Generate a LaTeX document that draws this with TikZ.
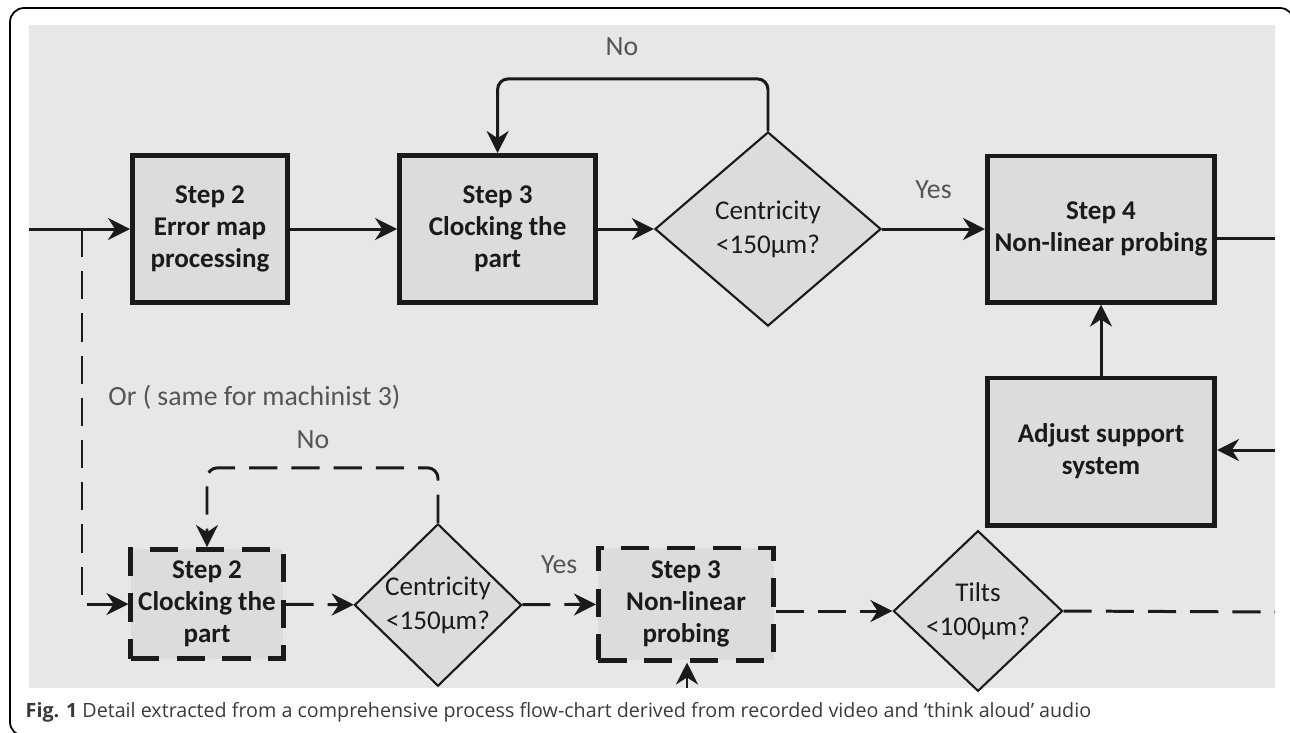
\documentclass[tikz,border=0pt]{standalone}
\usepackage{fontspec}
\setmainfont{Carlito}
\newfontfamily\capfont{Open Sans}
\usepackage{tikz}
\usetikzlibrary{arrows.meta,positioning,shapes.geometric}
\definecolor{panel}{HTML}{E7E7E7}
\definecolor{boxfill}{HTML}{DCDCDC}
\definecolor{ink}{HTML}{1A1A1A}
\definecolor{note}{HTML}{555555}
\definecolor{capgray}{HTML}{3A3A3A}

\begin{document}
\begin{tikzpicture}[x=0.01cm,y=-0.01cm,
  stepbox/.style={rectangle,draw=ink,line width=1.4pt,fill=boxfill,font=\fontsize{7.7}{9.1}\selectfont\bfseries,text=ink,align=center,inner sep=0pt},
  altbox/.style={stepbox,dash pattern=on 8pt off 5pt},
  test/.style={diamond,draw=ink,line width=0.6pt,fill=boxfill,inner sep=0pt,font=\fontsize{7.7}{9.6}\selectfont,text=ink,align=center},
  lbl/.style={font=\fontsize{7.9}{9.5}\selectfont,text=note},
  wire/.style={ink,line width=0.85pt},
  arr/.style={-{Stealth[length=2.2mm,width=2.2mm]},wire},
  darr/.style={arr,dash pattern=on 8pt off 4pt},
  dline/.style={wire,dash pattern=on 8pt off 4pt}]
\useasboundingbox (0,0) rectangle (1290,732);
\draw[rounded corners=4pt,line width=0.5pt] (1294,40) -- (1294,8) -- (10,8) -- (10,736) -- (60,736);
\fill[panel] (29,25) rectangle (1275,688);
% main route
\node[stepbox,minimum width=1.55cm,minimum height=1.47cm] (s2) at (210,229) {Step 2\\Error map\\processing};
\node[stepbox,minimum width=1.96cm,minimum height=1.47cm,right=1.07cm of s2] (s3) {Step 3\\Clocking the\\part};
\node[test,minimum width=2.26cm,minimum height=1.94cm] (c1) at (768,229) {Centricity\\<150µm?};
\node[stepbox,minimum width=2.27cm,minimum height=1.46cm] (s4) at (1101,229) {Step 4\\Non-linear probing};
\node[stepbox,minimum width=2.27cm,minimum height=1.47cm,below=0.71cm of s4] (adj) {Adjust support\\system};
\coordinate (inL) at (29,229);
\coordinate (br) at (82,229);
\coordinate (outS4) at (1275,238);
\coordinate (inAdj) at (1275,450);
\draw[arr] (inL) -- (s2);
\draw[arr] (s2) -- (s3);
\draw[arr] (s3) -- (c1);
\draw[arr,rounded corners=3pt] (c1.north) -- ++(0,-52) -| (s3.north);
\node[lbl] (no1) at (622,47) {No};
\draw[arr] (c1) -- (s4) node[midway,above=5pt,lbl] {Yes};
\draw[wire] (s4.east |- outS4) -- (outS4);
\draw[arr] (adj) -- (s4);
\draw[arr] (inAdj) -- (adj.east |- inAdj);
% alternative route
\node[lbl,anchor=west] (orlbl) at (96,397) {Or ( same for machinist 3)};
\node[altbox,minimum width=1.52cm,minimum height=1.09cm] (b2) at (207,604) {Step 2\\Clocking the\\part};
\node[test,minimum width=1.67cm,minimum height=1.46cm] (c2) at (438,605) {Centricity\\<150µm?};
\node[altbox,minimum width=1.75cm,minimum height=1.12cm] (b3) at (686,604) {Step 3\\Non-linear\\probing};
\node[test,minimum width=1.69cm,minimum height=1.48cm] (tilt) at (978,611) {Tilts\\<100µm?};
\coordinate (inB3) at (687,688);
\coordinate (outT) at (1275,612);
\draw[darr] (br) |- (b2);
\draw[darr] (b2) -- (c2);
\draw[darr,rounded corners=3pt] (c2.north) -- ++(0,-55) -| (b2.north);
\node[lbl] (no2) at (313,440) {No};
\draw[darr] (c2) -- (b3) node[midway,above=5pt,lbl] {Yes};
\draw[arr] (inB3) -- (b3.south -| inB3);
\draw[darr] (b3.east |- tilt.west) -- (tilt.west);
\draw[dline] (tilt.east) -- (outT);
% caption
\node[anchor=west,inner sep=0pt,font=\capfont\fontsize{5.6}{7}\selectfont,text=capgray] (cap) at (25,712) {\textbf{Fig. 1} Detail extracted from a comprehensive process flow-chart derived from recorded video and ‘think aloud’ audio};
\end{tikzpicture}
\end{document}
